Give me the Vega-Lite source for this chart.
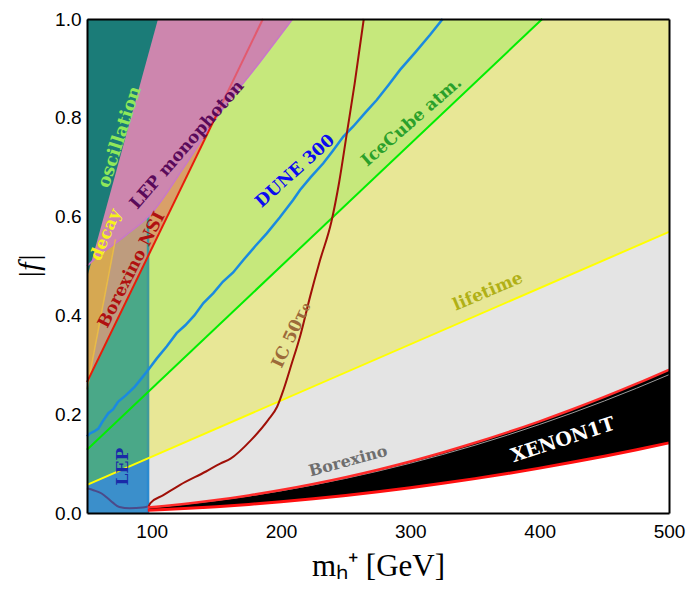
{
  "$schema": "https://vega.github.io/schema/vega-lite/v6.json",
  "width": 582,
  "height": 494,
  "autosize": {"type": "none"},
  "padding": {"left": 87, "top": 19, "right": 20, "bottom": 76},
  "background": "white",
  "config": {"view": {"stroke": null}},
  "datasets": {
    "bx": [
      {"x": 97, "lo": 0.00534, "gl": 0.01054, "up": 0.0109},
      {"x": 110, "lo": 0.00687, "gl": 0.01355, "up": 0.01404},
      {"x": 125, "lo": 0.00888, "gl": 0.0175, "up": 0.01813},
      {"x": 150, "lo": 0.01278, "gl": 0.0252, "up": 0.0261},
      {"x": 175, "lo": 0.0174, "gl": 0.0343, "up": 0.03553},
      {"x": 200, "lo": 0.02272, "gl": 0.0448, "up": 0.0464},
      {"x": 225, "lo": 0.02876, "gl": 0.0567, "up": 0.05873},
      {"x": 250, "lo": 0.0355, "gl": 0.07, "up": 0.0725},
      {"x": 275, "lo": 0.04296, "gl": 0.0847, "up": 0.08773},
      {"x": 300, "lo": 0.05112, "gl": 0.1008, "up": 0.1044},
      {"x": 325, "lo": 0.06, "gl": 0.1183, "up": 0.12253},
      {"x": 350, "lo": 0.06958, "gl": 0.1372, "up": 0.1421},
      {"x": 375, "lo": 0.07988, "gl": 0.1575, "up": 0.16313},
      {"x": 400, "lo": 0.09088, "gl": 0.1792, "up": 0.1856},
      {"x": 425, "lo": 0.1026, "gl": 0.2023, "up": 0.20953},
      {"x": 450, "lo": 0.11502, "gl": 0.2268, "up": 0.2349},
      {"x": 475, "lo": 0.12816, "gl": 0.2527, "up": 0.26173},
      {"x": 500, "lo": 0.142, "gl": 0.28, "up": 0.29}
    ],
    "life": [{"x": 50, "y": 0.057}, {"x": 500, "y": 0.569}],
    "band": [{"x": 50, "y": 0.057}, {"x": 97.2, "y": 0.1107}],
    "ice": [{"x": 50, "y": 0.128}, {"x": 402, "y": 1.0}],
    "nsi": [{"x": 50, "y": 0.265}, {"x": 150, "y": 0.805}, {"x": 186, "y": 1.0}],
    "nsilow": [{"x": 50, "y": 0.265}, {"x": 150, "y": 0.805}],
    "nsihigh": [{"x": 150, "y": 0.805}, {"x": 186, "y": 1.0}],
    "nsiband": [{"x": 50, "y": 0.265}, {"x": 97.2, "y": 0.52}],
    "decay": [{"x": 50, "y": 0.25}, {"x": 72, "y": 0.554}],
    "pink": [
      {"x": 50, "y": 0.5}, {"x": 55, "y": 0.512}, {"x": 80, "y": 0.562}, {"x": 100, "y": 0.607},
      {"x": 125, "y": 0.7}, {"x": 150, "y": 0.8}, {"x": 180, "y": 0.9}, {"x": 209, "y": 1.0}
    ],
    "osc": [{"x": 50, "y": 0.476}, {"x": 104.9, "y": 1.0}],
    "edgelow": [{"x": 97.2, "y": 0}, {"x": 97.2, "y": 0.1107}],
    "edgehigh": [{"x": 97.2, "y": 0.1107}, {"x": 97.2, "y": 0.607}],
    "ic": [
      {"x": 97.5, "y": 0.012}, {"x": 99, "y": 0.02}, {"x": 109, "y": 0.036}, {"x": 122, "y": 0.057},
      {"x": 142, "y": 0.084}, {"x": 153, "y": 0.1}, {"x": 161, "y": 0.11}, {"x": 177, "y": 0.148},
      {"x": 190, "y": 0.188}, {"x": 197, "y": 0.215}, {"x": 202, "y": 0.25}, {"x": 208, "y": 0.3},
      {"x": 215, "y": 0.36}, {"x": 222.5, "y": 0.438}, {"x": 230, "y": 0.51}, {"x": 239, "y": 0.59},
      {"x": 245, "y": 0.67}, {"x": 251, "y": 0.77}, {"x": 257, "y": 0.87}, {"x": 264, "y": 1.0}
    ],
    "dune": [
      {"x": 50, "y": 0.155}, {"x": 52.3, "y": 0.161}, {"x": 55.5, "y": 0.165}, {"x": 58.8, "y": 0.171},
      {"x": 62, "y": 0.185}, {"x": 66.5, "y": 0.202}, {"x": 70.3, "y": 0.21}, {"x": 74, "y": 0.225},
      {"x": 80, "y": 0.238}, {"x": 87, "y": 0.256}, {"x": 92, "y": 0.272}, {"x": 97.4, "y": 0.29},
      {"x": 104, "y": 0.313}, {"x": 111.6, "y": 0.337}, {"x": 119.3, "y": 0.364}, {"x": 126, "y": 0.38},
      {"x": 133, "y": 0.4}, {"x": 140, "y": 0.425}, {"x": 147.7, "y": 0.445}, {"x": 155, "y": 0.468},
      {"x": 163, "y": 0.487}, {"x": 170.9, "y": 0.512}, {"x": 180, "y": 0.54}, {"x": 189, "y": 0.566},
      {"x": 199, "y": 0.598}, {"x": 209.5, "y": 0.634}, {"x": 214.7, "y": 0.654}, {"x": 223, "y": 0.68},
      {"x": 232.7, "y": 0.708}, {"x": 240, "y": 0.733}, {"x": 248.2, "y": 0.762}, {"x": 256, "y": 0.783},
      {"x": 265, "y": 0.81}, {"x": 274, "y": 0.836}, {"x": 283, "y": 0.866}, {"x": 292, "y": 0.897},
      {"x": 304, "y": 0.933}, {"x": 315.3, "y": 0.968}, {"x": 325, "y": 1.0}
    ],
    "lepline": [
      {"x": 50, "y": 0.05}, {"x": 55, "y": 0.046}, {"x": 61, "y": 0.04}, {"x": 66, "y": 0.03},
      {"x": 70, "y": 0.021}, {"x": 75, "y": 0.012}, {"x": 83, "y": 0.0095}, {"x": 93, "y": 0.011}, {"x": 97, "y": 0.013}
    ],
    "xmajor": [{"x": 100}, {"x": 200}, {"x": 300}, {"x": 400}],
    "xminor": [
      {"x": 60}, {"x": 80}, {"x": 120}, {"x": 140}, {"x": 160}, {"x": 180}, {"x": 220}, {"x": 240}, {"x": 260}, {"x": 280},
      {"x": 320}, {"x": 340}, {"x": 360}, {"x": 380}, {"x": 420}, {"x": 440}, {"x": 460}, {"x": 480}
    ],
    "ymajor": [{"y": 0.2}, {"y": 0.4}, {"y": 0.6}, {"y": 0.8}],
    "yminor": [
      {"y": 0.05}, {"y": 0.1}, {"y": 0.15}, {"y": 0.25}, {"y": 0.3}, {"y": 0.35}, {"y": 0.45}, {"y": 0.5},
      {"y": 0.55}, {"y": 0.65}, {"y": 0.7}, {"y": 0.75}, {"y": 0.85}, {"y": 0.9}, {"y": 0.95}
    ]
  },
  "resolve": {"axis": {"x": "independent", "y": "independent"}},
  "encoding": {
    "x": {"field": "x", "type": "quantitative", "scale": {"domain": [50, 500], "nice": false, "zero": false}, "axis": null},
    "y": {"field": "y", "type": "quantitative", "scale": {"domain": [0, 1], "nice": false, "zero": false}, "axis": null}
  },
  "layer": [
    {
      "data": {"name": "bx"},
      "mark": {"type": "area", "color": "#e4e4e4", "interpolate": "monotone"},
      "encoding": {
        "x": {"field": "x", "type": "quantitative", "scale": {"domain": [50, 500], "nice": false, "zero": false},
          "axis": {"orient": "bottom", "values": [100, 200, 300, 400, 500],
            "ticks": false,
            "labelFont": "Liberation Sans", "labelFontSize": 19, "labelColor": "black", "labelPadding": 9,
            "labelFlush": false, "labelOverlap": false,
            "domainColor": "black", "domainWidth": 2, "grid": false,
            "title": "mₕ⁺  [GeV]", "titleFont": "Liberation Serif", "titleFontSize": 31, "titleFontWeight": "normal",
            "titleColor": "black", "titlePadding": 10, "zindex": 1}},
        "y": {"field": "up", "type": "quantitative", "scale": {"domain": [0, 1], "nice": false, "zero": false},
          "axis": {"orient": "left", "values": [0, 0.2, 0.4, 0.6, 0.8, 1.0],
            "format": ".1f",
            "ticks": false,
            "labelFont": "Liberation Sans", "labelFontSize": 19, "labelColor": "black", "labelPadding": 6,
            "labelFlush": false, "labelOverlap": false,
            "domainColor": "black", "domainWidth": 2, "grid": false,
            "title": "|f|", "titleFont": "Liberation Serif", "titleFontStyle": "italic", "titleFontSize": 30, "titleFontWeight": "normal",
            "titleColor": "black", "titlePadding": 10, "zindex": 1}},
        "y2": {"datum": 1}
      }
    },
    {
      "data": {"name": "bx"},
      "mark": {"type": "area", "color": "black", "interpolate": "monotone"},
      "encoding": {
        "y": {"field": "lo", "type": "quantitative", "scale": {"domain": [0, 1], "nice": false, "zero": false}, "axis": null},
        "y2": {"field": "up"}
      }
    },
    {
      "data": {"name": "life"},
      "mark": {"type": "area", "color": "#e8e796"},
      "encoding": {
        "x": {"field": "x", "type": "quantitative", "scale": {"domain": [50, 500], "nice": false, "zero": false},
          "axis": {"orient": "top", "values": [100, 200, 300, 400], "ticks": false,
            "labels": false, "title": null, "domainColor": "black", "domainWidth": 2, "grid": false, "zindex": 1}},
        "y": {"field": "y", "type": "quantitative", "scale": {"domain": [0, 1], "nice": false, "zero": false},
          "axis": {"orient": "right", "values": [0.2, 0.4, 0.6, 0.8], "ticks": false,
            "labels": false, "title": null, "domainColor": "black", "domainWidth": 2, "grid": false, "zindex": 1}},
        "y2": {"datum": 1}
      }
    },
    {"data": {"name": "ice"}, "mark": {"type": "area", "color": "#c6e87c"}, "encoding": {"y2": {"datum": 1}}},
    {"data": {"name": "band"}, "mark": {"type": "area", "color": "#3b8fcb"}, "encoding": {"y2": {"datum": 0}}},
    {"data": {"name": "band"}, "mark": {"type": "area", "color": "#4aa888"}, "encoding": {"y2": {"datum": 1}}},
    {"data": {"name": "nsi"}, "mark": {"type": "area", "color": "#d9a068"}, "encoding": {"y2": {"datum": 1}}},
    {"data": {"name": "nsiband"}, "mark": {"type": "area", "color": "#be9c7e"}, "encoding": {"y2": {"datum": 1}}},
    {"data": {"name": "decay"}, "mark": {"type": "area", "color": "#d6a852"}, "encoding": {"y2": {"datum": 1}}},
    {"data": {"name": "edgehigh"}, "mark": {"type": "line", "color": "#3f9a9c", "strokeWidth": 2.5}, "encoding": {}},
    {"data": {"name": "pink"}, "mark": {"type": "area", "color": "#cd86ae", "interpolate": "monotone"}, "encoding": {"y2": {"datum": 1}}},
    {"data": {"name": "osc"}, "mark": {"type": "area", "color": "#1b7c78"}, "encoding": {"y2": {"datum": 1}}},
    {"data": {"name": "pink"}, "mark": {"type": "line", "color": "#c878c8", "strokeWidth": 1.5, "interpolate": "monotone"}, "encoding": {}},
    {"data": {"name": "decay"}, "mark": {"type": "line", "color": "#f0c040", "strokeWidth": 1.5, "opacity": 0.8}, "encoding": {}},
    {"data": {"name": "edgelow"}, "mark": {"type": "line", "color": "#2a8ad0", "strokeWidth": 2.5}, "encoding": {}},
    {"data": {"name": "life"}, "mark": {"type": "line", "color": "#ffff00", "strokeWidth": 2}, "encoding": {}},
    {"data": {"name": "ice"}, "mark": {"type": "line", "color": "#00ee00", "strokeWidth": 2}, "encoding": {}},
    {"data": {"name": "dune"}, "mark": {"type": "line", "color": "#1a8ae0", "strokeWidth": 2.5}, "encoding": {}},
    {"data": {"name": "ic"}, "mark": {"type": "line", "color": "#a01008", "strokeWidth": 2, "interpolate": "monotone"}, "encoding": {}},
    {"data": {"name": "nsilow"}, "mark": {"type": "line", "color": "#e81c0a", "strokeWidth": 2}, "encoding": {}},
    {"data": {"name": "nsihigh"}, "mark": {"type": "line", "color": "#e25a6e", "strokeWidth": 2}, "encoding": {}},
    {"data": {"name": "lepline"}, "mark": {"type": "line", "color": "#4c4a8a", "strokeWidth": 2, "interpolate": "monotone"}, "encoding": {}},
    {
      "data": {"name": "bx"},
      "mark": {"type": "line", "color": "#999999", "strokeWidth": 1, "interpolate": "monotone"},
      "encoding": {"y": {"field": "gl", "type": "quantitative", "scale": {"domain": [0, 1], "nice": false, "zero": false}, "axis": null}}
    },
    {
      "data": {"name": "bx"},
      "mark": {"type": "line", "color": "#ff2a2a", "strokeWidth": 2.5, "interpolate": "monotone"},
      "encoding": {"y": {"field": "up", "type": "quantitative", "scale": {"domain": [0, 1], "nice": false, "zero": false}, "axis": null}}
    },
    {
      "data": {"name": "bx"},
      "mark": {"type": "line", "color": "#ff1010", "strokeWidth": 3, "interpolate": "monotone"},
      "encoding": {"y": {"field": "lo", "type": "quantitative", "scale": {"domain": [0, 1], "nice": false, "zero": false}, "axis": null}}
    },
    {"data": {"values": [{"x": 75.5, "y": 0.761, "label": "oscillation"}]},
      "mark": {"type": "text", "font": "DejaVu Serif", "fontWeight": "bold", "fontSize": 18, "angle": 288, "color": "#8fe85a", "align": "center", "baseline": "middle"},
      "encoding": {"text": {"field": "label"}}},
    {"data": {"values": [{"x": 127.5, "y": 0.745, "label": "LEP monophoton"}]},
      "mark": {"type": "text", "font": "DejaVu Serif", "fontWeight": "bold", "fontSize": 17, "angle": 311, "color": "#5a0a5a", "align": "center", "baseline": "middle"},
      "encoding": {"text": {"field": "label"}}},
    {"data": {"values": [{"x": 64.6, "y": 0.563, "label": "decay"}]},
      "mark": {"type": "text", "font": "DejaVu Serif", "fontWeight": "bold", "fontSize": 17, "angle": 293, "color": "#f6f21a", "align": "center", "baseline": "middle"},
      "encoding": {"text": {"field": "label"}}},
    {"data": {"values": [{"x": 84.5, "y": 0.492, "label": "Borexino NSI"}]},
      "mark": {"type": "text", "font": "DejaVu Serif", "fontWeight": "bold", "fontSize": 17, "angle": 297, "color": "#b01010", "align": "center", "baseline": "middle"},
      "encoding": {"text": {"field": "label"}}},
    {"data": {"values": [{"x": 211, "y": 0.692, "label": "DUNE 300"}]},
      "mark": {"type": "text", "font": "DejaVu Serif", "fontWeight": "bold", "fontSize": 17, "angle": 318, "color": "#0a0af0", "align": "center", "baseline": "middle"},
      "encoding": {"text": {"field": "label"}}},
    {"data": {"values": [{"x": 301, "y": 0.792, "label": "IceCube atm."}]},
      "mark": {"type": "text", "font": "DejaVu Serif", "fontWeight": "bold", "fontSize": 17, "angle": 319, "color": "#2aa02a", "align": "center", "baseline": "middle"},
      "encoding": {"text": {"field": "label"}}},
    {"data": {"values": [{"x": 208.3, "y": 0.36, "label": "IC 50τ₀"}]},
      "mark": {"type": "text", "font": "DejaVu Serif", "fontWeight": "bold", "fontSize": 17, "angle": 295, "color": "#9c6a3a", "align": "center", "baseline": "middle"},
      "encoding": {"text": {"field": "label"}}},
    {"data": {"values": [{"x": 360, "y": 0.448, "label": "lifetime"}]},
      "mark": {"type": "text", "font": "DejaVu Serif", "fontWeight": "bold", "fontSize": 17, "angle": 337, "color": "#b0b016", "align": "center", "baseline": "middle"},
      "encoding": {"text": {"field": "label"}}},
    {"data": {"values": [{"x": 251.9, "y": 0.105, "label": "Borexino"}]},
      "mark": {"type": "text", "font": "DejaVu Serif", "fontWeight": "bold", "fontSize": 16, "angle": 345, "color": "#6e6e6e", "align": "center", "baseline": "middle"},
      "encoding": {"text": {"field": "label"}}},
    {"data": {"values": [{"x": 418, "y": 0.148, "label": "XENON1T"}]},
      "mark": {"type": "text", "font": "DejaVu Serif", "fontWeight": "bold", "fontSize": 19, "angle": 342, "color": "white", "align": "center", "baseline": "middle"},
      "encoding": {"text": {"field": "label"}}},
    {"data": {"values": [{"x": 78, "y": 0.094, "label": "LEP"}]},
      "mark": {"type": "text", "font": "DejaVu Serif", "fontWeight": "bold", "fontSize": 17, "angle": 270, "color": "#1a2aa8", "align": "center", "baseline": "middle"},
      "encoding": {"text": {"field": "label"}}},
    {"data": {"name": "xmajor"}, "mark": {"type": "rule", "color": "black", "strokeWidth": 2},
      "encoding": {"y": {"datum": 0}, "y2": {"datum": 0.016}}},
    {"data": {"name": "xmajor"}, "mark": {"type": "rule", "color": "black", "strokeWidth": 2},
      "encoding": {"y": {"datum": 1}, "y2": {"datum": 0.984}}},
    {"data": {"name": "xminor"}, "mark": {"type": "rule", "color": "black", "strokeWidth": 2},
      "encoding": {"y": {"datum": 0}, "y2": {"datum": 0.009}}},
    {"data": {"name": "xminor"}, "mark": {"type": "rule", "color": "black", "strokeWidth": 2},
      "encoding": {"y": {"datum": 1}, "y2": {"datum": 0.991}}},
    {"data": {"name": "ymajor"}, "mark": {"type": "rule", "color": "black", "strokeWidth": 2},
      "encoding": {"x": {"datum": 50}, "x2": {"datum": 56}}},
    {"data": {"name": "ymajor"}, "mark": {"type": "rule", "color": "black", "strokeWidth": 2},
      "encoding": {"x": {"datum": 500}, "x2": {"datum": 494}}},
    {"data": {"name": "yminor"}, "mark": {"type": "rule", "color": "black", "strokeWidth": 2},
      "encoding": {"x": {"datum": 50}, "x2": {"datum": 53.5}}},
    {"data": {"name": "yminor"}, "mark": {"type": "rule", "color": "black", "strokeWidth": 2},
      "encoding": {"x": {"datum": 500}, "x2": {"datum": 496.5}}}
  ]
}
